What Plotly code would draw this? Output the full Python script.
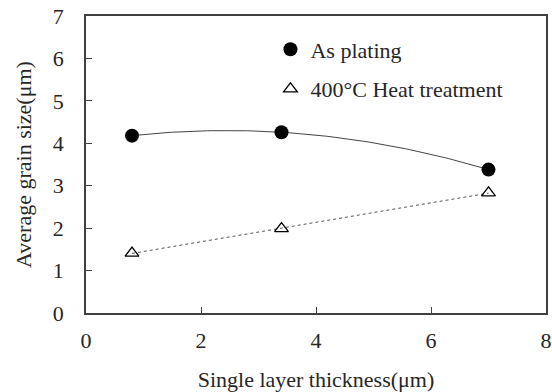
import numpy as np
import plotly.graph_objects as go

thickness = [0.8, 3.4, 7.0]
as_plating = [4.18, 4.26, 3.38]
heat_treat = [1.41, 1.99, 2.83]
x_ticks = [0, 2, 4, 6, 8]
y_ticks = [0, 1, 2, 3, 4, 5, 6, 7]

font_family = "Liberation Serif, Times New Roman, serif"
ink = "#262626"
fs = 22

# trendlines derived from the data (poly order 2 and linear)
xs = np.linspace(min(thickness), max(thickness), 100)
c2 = np.polyfit(thickness, as_plating, 2)
c1 = np.polyfit(thickness, heat_treat, 1)

fig = go.Figure()
fig.add_trace(go.Scatter(x=xs, y=np.polyval(c2, xs), mode="lines",
                         line=dict(color="#444444", width=1), showlegend=False, hoverinfo="skip"))
fig.add_trace(go.Scatter(x=xs, y=np.polyval(c1, xs), mode="lines",
                         line=dict(color="#555555", width=1, dash="dot"), showlegend=False, hoverinfo="skip"))
fig.add_trace(go.Scatter(x=thickness, y=as_plating, mode="markers", name="As plating",
                         legendgroup="a",
                         marker=dict(symbol="circle", size=14, color="black")))
fig.add_trace(go.Scatter(x=thickness, y=heat_treat, mode="markers", name="400°C Heat treatment",
                         legendgroup="b",
                         marker=dict(symbol="triangle-up-open", size=12, color="black",
                                     line=dict(width=1.3, color="black"))))

axis_common = dict(showgrid=False, zeroline=False, showline=True, linecolor="#404040",
                   linewidth=1.5, mirror=True, ticks="inside", ticklen=6, tickwidth=1.3,
                   tickcolor="#404040", automargin=False,
                   tickfont=dict(family=font_family, size=fs, color=ink))

fig.update_xaxes(range=[0, 8], tickvals=x_ticks, ticktext=[str(v) for v in x_ticks],
                 ticklabelstandoff=7,
                 title=dict(text="Single layer thickness(μm)", font=dict(family=font_family, size=fs, color=ink),
                            standoff=19),
                 **axis_common)
fig.update_yaxes(range=[0, 7], tickvals=y_ticks, ticktext=[str(v) for v in y_ticks],
                 ticklabelstandoff=16,
                 title=dict(text="Average grain size(μm)", font=dict(family=font_family, size=fs, color=ink),
                            standoff=15),
                 **axis_common)

fig.update_layout(
    width=552, height=392,
    margin=dict(l=86, r=6, t=16, b=79),
    plot_bgcolor="white", paper_bgcolor="white",
    legend=dict(x=0.401, y=0.958, xanchor="left", yanchor="top", bgcolor="rgba(0,0,0,0)",
                font=dict(family=font_family, size=fs, color=ink),
                itemwidth=30, tracegroupgap=8),
)

# remove the page's default 8px body margin so the figure fills the window exactly
fig.write_html("out.html", config={"displayModeBar": False},
               post_script="document.body.style.margin='0';document.body.style.overflow='hidden';")
